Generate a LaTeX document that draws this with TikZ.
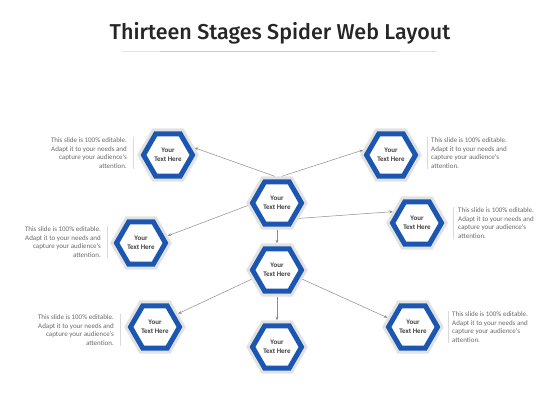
\documentclass[tikz,border=0pt]{standalone}
\usepackage{fontspec}
\setmainfont{Carlito}
\newfontfamily\titlefont{Fira Sans Medium}
\usetikzlibrary{shapes.geometric,arrows.meta}
\definecolor{hexblue}{RGB}{27,87,177}
\definecolor{hexgray}{RGB}{226,226,226}
\definecolor{txtgray}{RGB}{105,105,105}
\newcommand\blurb{This slide is 100\% editable.\\Adapt it to your needs and\\capture your audience's\\attention.}

\begin{document}
\begin{tikzpicture}[x=1pt,y=-1pt,
  hexcell/.style={regular polygon, regular polygon sides=6, minimum size=49pt, inner sep=0pt,
    draw=hexblue, line width=5pt, fill=white, outer sep=5.5pt,
    preaction={draw=hexgray, line width=11pt},
    font=\fontsize{7}{9}\selectfont\bfseries, text=black!75, align=center},
  desc/.style={font=\fontsize{7}{8.5}\selectfont, text=txtgray, inner sep=0pt},
  sepline/.style={draw=black!15, line width=0.6pt},
  conn/.style={draw=black!45, line width=0.5pt, -{Stealth[length=3.5pt,width=3pt]}}]
\useasboundingbox (0,0) rectangle (560,420);

\node[font=\titlefont\fontsize{21.5}{25}\selectfont, text=black!85] (title) at (280,33) {Thirteen Stages Spider Web Layout};
\draw[black!10, line width=0.8pt] (122,51) -- (437,51);
\draw[black!20, line width=0.8pt] (160,51) -- (400,51);

\node[hexcell] (tl) at (168,155) {Your\\Text Here};
\node[hexcell] (tr) at (391,155) {Your\\Text Here};
\node[hexcell] (ct) at (277,203) {Your\\Text Here};
\node[hexcell] (rm) at (417,223) {Your\\Text Here};
\node[hexcell] (lm) at (141,243) {Your\\Text Here};
\node[hexcell] (cm) at (277,270) {Your\\Text Here};
\node[hexcell] (bl) at (155,327) {Your\\Text Here};
\node[hexcell] (bc) at (277,347) {Your\\Text Here};
\node[hexcell] (br) at (413,327) {Your\\Text Here};

\draw[conn] (ct.95) -- (tl.15);
\draw[conn] (ct.80) -- (tr.170);
\draw[conn] (ct.185) -- (lm.15);
\draw[conn] (ct.-35) -- (rm.155);
\draw[conn] (ct.south) -- (cm.north);
\draw[conn] (cm.200) -- (bl.30);
\draw[conn] (cm.south) -- (bc.north);
\draw[conn] (cm.-20) -- (br.160);

\node[desc, anchor=east, align=right] (dtl) at (127,153) {\blurb};
\node[desc, anchor=west, align=left] (dtr) at (431,153) {\blurb};
\node[desc, anchor=east, align=right] (dlm) at (101,242) {\blurb};
\node[desc, anchor=west, align=left] (drm) at (458,223) {\blurb};
\node[desc, anchor=east, align=right] (dbl) at (114,330) {\blurb};
\node[desc, anchor=west, align=left] (dbr) at (452,327) {\blurb};

\draw[sepline] (133,137) -- (133,169);
\draw[sepline] (107,226) -- (107,258);
\draw[sepline] (120,314) -- (120,346);
\draw[sepline] (427,137) -- (427,169);
\draw[sepline] (453,207) -- (453,239);
\draw[sepline] (448,311) -- (448,343);
\end{tikzpicture}
\end{document}
